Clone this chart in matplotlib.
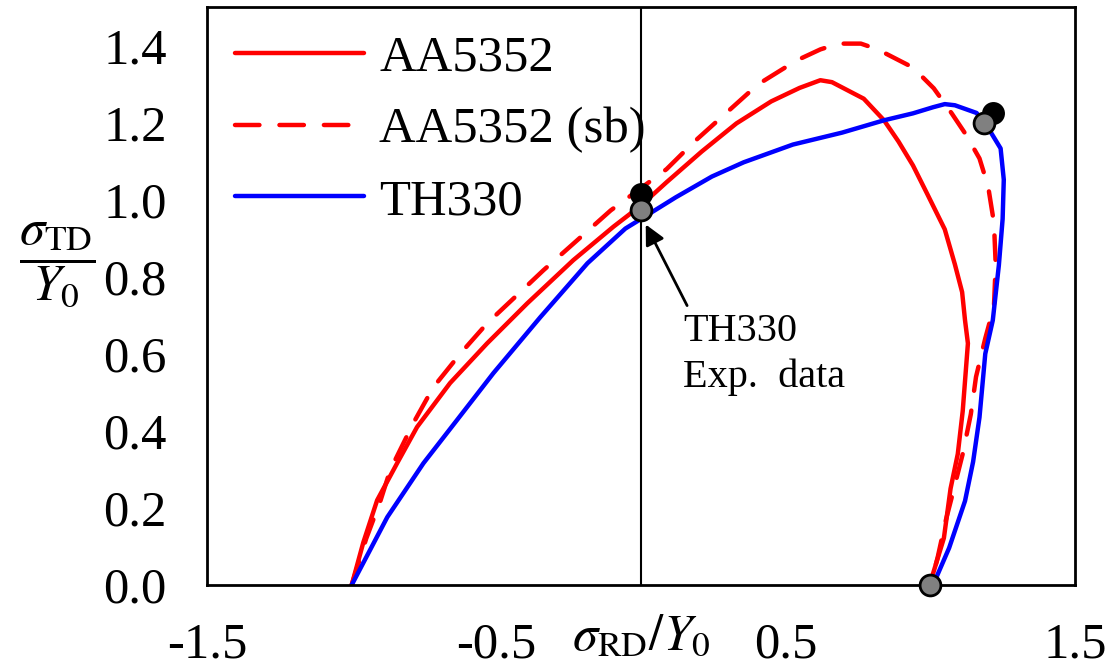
import matplotlib
matplotlib.use("Agg")
import matplotlib.pyplot as plt

plt.rcParams['font.family'] = ['Liberation Serif', 'DejaVu Serif']
plt.rcParams['mathtext.fontset'] = 'stix'
plt.rcParams['axes.unicode_minus'] = False

# --- data: normalized yield loci (sigma_RD/Y0, sigma_TD/Y0) ---
aa_x = [-1.0, -0.96, -0.912, -0.843, -0.774, -0.66, -0.532, -0.393, -0.234, -0.095,
        0.0, 0.088, 0.21, 0.33, 0.45, 0.548, 0.62, 0.66, 0.77, 0.84, 0.89, 0.94,
        0.99, 1.05, 1.085, 1.11, 1.12, 1.13, 1.112, 1.095, 1.07, 1.047, 1.008, 1.0]
aa_y = [0.0, 0.11, 0.22, 0.316, 0.41, 0.524, 0.627, 0.731, 0.843, 0.93,
        0.985, 1.045, 1.125, 1.198, 1.255, 1.29, 1.31, 1.305, 1.262, 1.206, 1.151, 1.089,
        1.014, 0.923, 0.832, 0.76, 0.687, 0.627, 0.451, 0.34, 0.25, 0.122, 0.026, 0.0]

sb_x = [-1.0, -0.95, -0.90, -0.867, -0.787, -0.718, -0.625, -0.532, -0.44, -0.337,
        -0.22, -0.105, 0.0, 0.088, 0.185, 0.293, 0.404, 0.537, 0.62, 0.683, 0.76,
        0.818, 0.94, 1.012, 1.074, 1.123, 1.17, 1.2, 1.22, 1.226, 1.22, 1.19, 1.158,
        1.14, 1.112, 1.077, 1.053, 1.025, 1.0]
sb_y = [0.0, 0.12, 0.22, 0.298, 0.42, 0.513, 0.6, 0.679, 0.744, 0.817,
        0.895, 0.972, 1.03, 1.079, 1.151, 1.224, 1.299, 1.361, 1.39, 1.405, 1.405,
        1.39, 1.343, 1.289, 1.224, 1.169, 1.107, 1.034, 0.94, 0.832, 0.723, 0.64, 0.54,
        0.443, 0.34, 0.236, 0.166, 0.07, 0.0]

th_x = [-1.0, -0.877, -0.752, -0.636, -0.51, -0.348, -0.185, -0.054, 0.0, 0.12,
        0.245, 0.355, 0.525, 0.695, 0.84, 0.94, 1.01, 1.05, 1.085, 1.16, 1.205, 1.243,
        1.254, 1.25, 1.237, 1.216, 1.19, 1.17, 1.148, 1.12, 1.065, 1.02, 1.0]
th_y = [0.0, 0.176, 0.316, 0.428, 0.55, 0.695, 0.835, 0.925, 0.95, 1.006,
        1.06, 1.097, 1.143, 1.174, 1.206, 1.224, 1.24, 1.248, 1.245, 1.225, 1.18, 1.133,
        1.052, 0.95, 0.83, 0.687, 0.6, 0.435, 0.32, 0.218, 0.096, 0.018, 0.0]

# experimental points
exp_aa_x = [0.0, 1.216]
exp_aa_y = [1.016, 1.226]
exp_th_x = [0.0, 1.185, 1.0]
exp_th_y = [0.972, 1.2, 0.0]

FS = 36.5

fig = plt.figure(figsize=(11.09, 6.68), dpi=100)
ax = fig.add_axes([0.1867, 0.1243, 0.9693 - 0.1867, 0.9895 - 0.1243])

ax.plot(aa_x, aa_y, color='#ff0000', lw=3.2, label='AA5352', solid_capstyle='round')
ax.plot(sb_x, sb_y, color='#ff0000', lw=3.2, ls=(0, (5.5, 4.5)), dash_capstyle='round',
        label='AA5352 (sb)')
ax.plot(th_x, th_y, color='#0000ff', lw=3.2, label='TH330', solid_capstyle='round')

ax.axvline(0, color='black', lw=1.5, zorder=1)

ax.plot(exp_aa_x, exp_aa_y, 'o', color='black', ms=15, mec='black', mew=1.5,
        clip_on=False, zorder=5)
ax.plot(exp_th_x, exp_th_y, 'o', color='#808080', ms=15, mec='black', mew=2,
        clip_on=False, zorder=6)

ax.annotate('TH330\nExp.  data', xy=(0.012, 0.942), xytext=(0.145, 0.705),
            fontsize=29, ha='left', va='top', linespacing=1.3,
            arrowprops=dict(arrowstyle='-|>', color='black', lw=2, relpos=(0.05, 1.0),
                            mutation_scale=30, shrinkA=4, shrinkB=2))

ax.set_xlim(-1.5, 1.5)
ax.set_ylim(0, 1.5)
ax.set_xticks([-1.5, -0.5, 0.5, 1.5])
ax.set_xticklabels(['-1.5', '-0.5', '0.5', '1.5'])
ax.set_yticks([0.0, 0.2, 0.4, 0.6, 0.8, 1.0, 1.2, 1.4])
ax.set_yticklabels(['0.0', '0.2', '0.4', '0.6', '0.8', '1.0', '1.2', '1.4'])
ax.tick_params(axis='both', length=0, labelsize=FS)
ax.tick_params(axis='y', pad=29)
ax.tick_params(axis='x', pad=27)
for s in ax.spines.values():
    s.set_linewidth(2)

leg = ax.legend(loc='upper left', frameon=False, fontsize=FS, handlelength=2.55,
                handletextpad=0.3, labelspacing=0.5, borderaxespad=0.15,
                bbox_to_anchor=(0.0, 1.0))

fig.text(641 / 1109, 1 - 638 / 668, r'$\sigma_{\rm RD}/Y_0$', fontsize=FS,
         ha='center', va='center')
fig.text(57 / 1109, 1 - 265 / 668, r'$\dfrac{\sigma_{\rm TD}}{Y_0}$', fontsize=FS,
         ha='center', va='center')

fig.savefig('out.png', dpi=100)
